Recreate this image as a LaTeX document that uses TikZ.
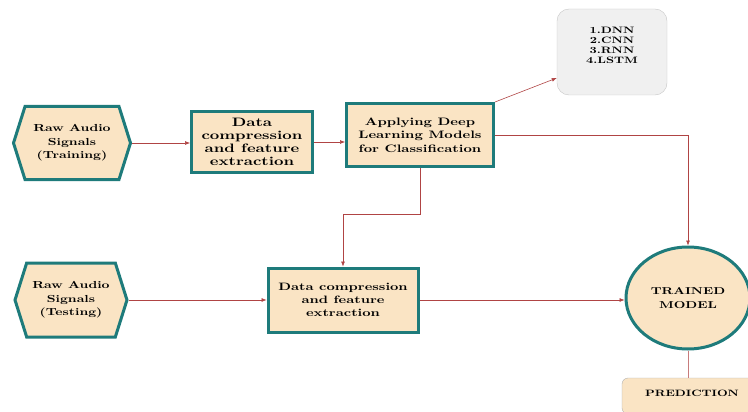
\documentclass[tikz,border=0pt]{standalone}
\usepackage{fontspec}
\usetikzlibrary{shapes.geometric,shapes.symbols,arrows.meta}

\newfontfamily\ancha{lmroman10-bold.otf}[FakeStretch=1.35]

\definecolor{durazno}{HTML}{FAE4C4}
\definecolor{verdeazul}{HTML}{1E7B7B}
\definecolor{rojizo}{HTML}{B04444}

\begin{document}
\begin{tikzpicture}[x=1pt, y=-1pt,
    entrada/.style={signal, signal to=west and east, signal pointer angle=145,
        draw=verdeazul, line width=3pt, fill=durazno, align=center,
        font=\fontsize{10.2}{13.3}\ancha, inner sep=2pt},
    proceso/.style={rectangle, draw=verdeazul, line width=3pt, fill=durazno,
        align=center},
    lista/.style={rectangle, rounded corners=12pt, draw=gray!45, fill=gray!12,
        align=center, font=\fontsize{9.3}{10}\ancha},
    flecha/.style={draw=rojizo, line width=0.6pt, -{Latex[length=5pt,width=4pt]}}
]
    \useasboundingbox (0,0) rectangle (748,412);

    % Entrenamiento
    \node[entrada, minimum width=117pt, minimum height=73pt] (crudoA) at (72,143)
        {Raw Audio\\Signals\\(Training)};
    \node[proceso, minimum width=121pt, minimum height=61pt,
        font=\fontsize{12.2}{12.9}\ancha] (compA) at (252,142)
        {Data\\compression\\and feature\\extraction};
    \node[proceso, minimum width=147pt, minimum height=63pt,
        font=\fontsize{10.8}{13.3}\ancha] (modelos) at (420,135)
        {Applying Deep\\Learning Models\\for Classification};
    \node[lista, minimum width=110pt, minimum height=86pt] (redes) at (612,52)
        {1.DNN\\2.CNN\\3.RNN\\4.LSTM\\[4pt]};

    % Prueba
    \node[entrada, minimum width=112pt, minimum height=74pt] (crudoB) at (71,300)
        {Raw Audio\\Signals\\(Testing)};
    \node[proceso, minimum width=150pt, minimum height=64pt,
        font=\fontsize{10.7}{13}\ancha] (compB) at (343,300)
        {Data compression\\and feature\\extraction};
    \node[ellipse, draw=verdeazul, line width=3pt, fill=durazno, align=center,
        minimum width=124pt, minimum height=102pt,
        font=\fontsize{10}{14}\ancha] (entrenado) at (688,298)
        {TRAINED\\MODEL};
    \node[rectangle, rounded corners=6pt, draw=gray!60, fill=durazno,
        minimum width=140pt, minimum height=36pt,
        font=\fontsize{9.2}{10}\ancha] (prediccion) at (692,396)
        {\raisebox{5pt}{PREDICTION}};

    % Conexiones
    \draw[flecha] (crudoA.east) -- (crudoA.east -| compA.west);
    \draw[flecha] (compA.east) -- (compA.east -| modelos.west);
    \draw[flecha] (modelos.north east) -- (redes.west |- 0,78);
    \draw[flecha] (modelos.east) -| (entrenado.north);
    \draw[flecha] (modelos.south) -- ++(0,46) -| (compB.north);
    \draw[flecha] (crudoB.east) -- (compB.west);
    \draw[flecha] (compB.east) -- (compB.east -| entrenado.west);
    \draw[draw=rojizo!70, line width=0.6pt] (entrenado.south) -- (entrenado.south |- prediccion.north);
\end{tikzpicture}
\end{document}
